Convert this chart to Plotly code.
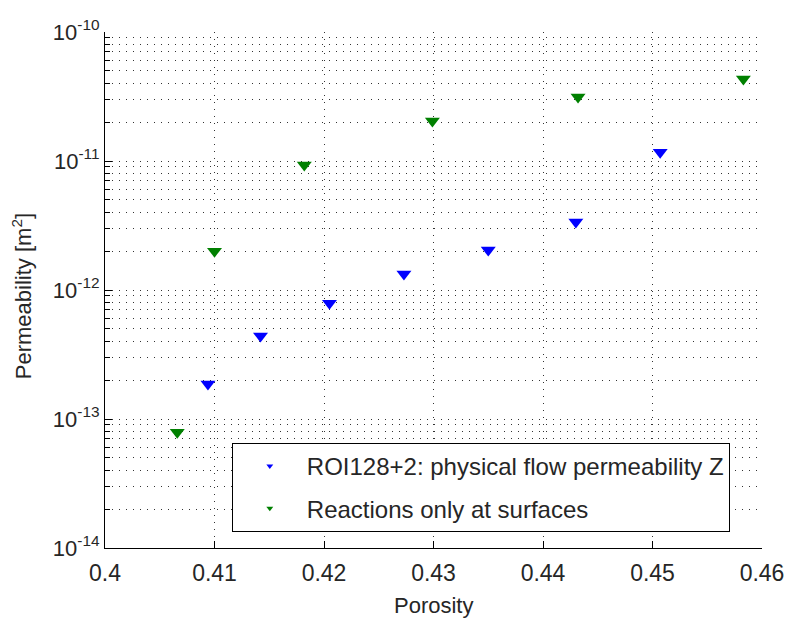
import plotly.graph_objects as go

# Data
porosity_blue = [0.4094, 0.4142, 0.4205, 0.4273, 0.4350, 0.4430, 0.4507]
perm_blue = [1.87e-13, 4.4e-13, 7.9e-13, 1.33e-12, 2.04e-12, 3.36e-12, 1.17e-11]

porosity_green = [0.4066, 0.4100, 0.4182, 0.4299, 0.4432, 0.4583]
perm_green = [7.9e-14, 2.0e-12, 9.3e-12, 2.04e-11, 3.13e-11, 4.33e-11]

name_blue = "ROI128+2: physical flow permeability Z"
name_green = "Reactions only at surfaces"

x_title = "Porosity"
y_title = "Permeability [m<sup>2</sup>]"

x_ticks = [0.40, 0.41, 0.42, 0.43, 0.44, 0.45, 0.46]
x_ticktext = ["0.4", "0.41", "0.42", "0.43", "0.44", "0.45", "0.46"]
y_exponents = [-14, -13, -12, -11, -10]

y_tickvals = [10.0 ** e for e in y_exponents]
y_ticktext = ["10<sup>%d</sup>" % e for e in y_exponents]
y_minor = [m * 10.0 ** e for e in y_exponents[:-1] for m in range(2, 10)]

FONT = "Liberation Sans, Arial, sans-serif"
TXT = "#262626"
DOT = "1px,6px"

fig = go.Figure()
fig.add_trace(go.Scatter(x=porosity_blue, y=perm_blue, mode="markers",
                         marker=dict(symbol="triangle-down", size=13, color="#0000ff"),
                         showlegend=False))
fig.add_trace(go.Scatter(x=porosity_green, y=perm_green, mode="markers",
                         marker=dict(symbol="triangle-down", size=13, color="#008000"),
                         showlegend=False))
# legend entries (small markers as in the reference)
fig.add_trace(go.Scatter(x=[None], y=[None], mode="markers", name=name_blue,
                         legendgroup="a",
                         marker=dict(symbol="triangle-down", size=6, color="#0000ff")))
fig.add_trace(go.Scatter(x=[None], y=[None], mode="markers", name=name_green,
                         legendgroup="b",
                         marker=dict(symbol="triangle-down", size=6, color="#008000")))

fig.update_layout(
    width=787, height=619,
    margin=dict(l=105, r=25, t=32, b=71),
    paper_bgcolor="white", plot_bgcolor="white",
    font=dict(family=FONT, size=22, color=TXT),
    legend=dict(x=0.193, y=0.2035, xanchor="left", yanchor="top",
                bgcolor="white", bordercolor="#000000", borderwidth=1,
                font=dict(family=FONT, size=24, color=TXT),
                tracegroupgap=8, itemwidth=64),
    xaxis=dict(range=[0.4, 0.46], tickvals=x_ticks, ticktext=x_ticktext,
               automargin=False,
               showline=True, linecolor="#000000", linewidth=1, mirror=False,
               ticks="inside", ticklen=7, tickcolor="#000000",
               showgrid=True, gridcolor="#333333", gridwidth=1, griddash=DOT,
               zeroline=False, ticklabelstandoff=4,
               tickfont=dict(size=23)),
    yaxis=dict(type="log", range=[-14, -10], tickvals=y_tickvals, ticktext=y_ticktext,
               automargin=False,
               showline=True, linecolor="#000000", linewidth=1, mirror=False,
               ticks="inside", ticklen=7, tickcolor="#000000",
               showgrid=True, gridcolor="#333333", gridwidth=1, griddash=DOT,
               zeroline=False,
               tickfont=dict(size=22),
               minor=dict(tickvals=y_minor, ticks="inside", ticklen=5, tickcolor="#000000",
                          showgrid=True, gridcolor="#333333", gridwidth=1, griddash=DOT)),
    annotations=[
        dict(text=x_title, xref="paper", yref="paper", x=0.5, y=-0.112,
             xanchor="center", yanchor="middle", showarrow=False,
             font=dict(size=22, color=TXT, family=FONT)),
        dict(text=y_title, xref="paper", yref="paper", x=-0.1263, y=0.488,
             xanchor="center", yanchor="middle", showarrow=False, textangle=-90,
             font=dict(size=22, color=TXT, family=FONT)),
    ],
)

fig.write_html("out.html", config={"displayModeBar": False},
               post_script="document.body.style.margin='0';document.body.style.overflow='hidden';")
